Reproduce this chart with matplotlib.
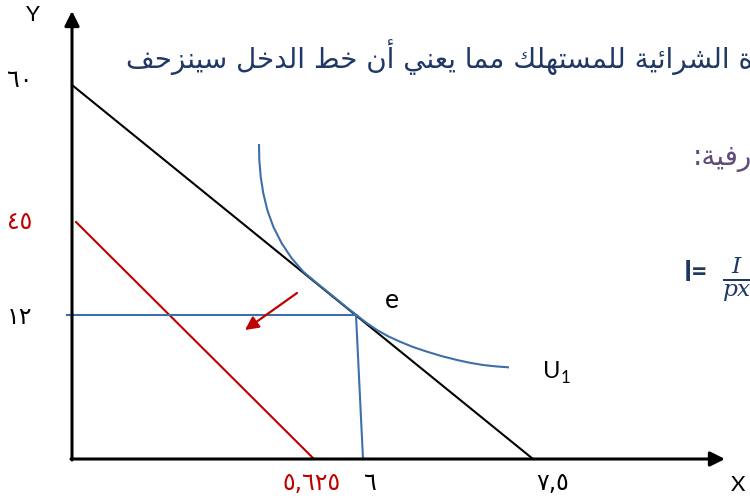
import matplotlib.pyplot as plt

# schematic coordinates: origin of the diagram at (0, 0), units
budget_x = [0, 461]
budget_y = [374, 0]
new_budget_x = [4, 242]
new_budget_y = [237, 0]
e_point = (284, 144)
e_foot_x = 291

u1_x = [187, 187.3, 188.7, 191.3, 195.3, 201.3, 209.7, 219.7, 231.3, 244.7, 261.3, 273, 284,
        294, 305, 316, 328, 341, 355, 370, 385, 398, 411, 424, 436]
u1_y = [314, 299, 282.3, 265.7, 249, 232.3, 215.7, 200.7, 187.3, 176, 162.6, 153, 144.3,
        136.5, 129, 122.8, 117.3, 112, 107.3, 102.8, 99, 96.2, 94, 92.6, 91.7]

y_tick_labels = ['٦٠', '٤٥', '١٢']
y_tick_pos = [379, 237, 142]
y_tick_colors = ['black', '#c00000', 'black']
x_tick_labels = ['٥,٦٢٥', '٦', '٧,٥']
x_tick_pos = [240, 298, 481]
x_tick_colors = ['#c00000', 'black', 'black']

top_text = 'ة الشرائية للمستهلك مما يعني أن خط الدخل سينزحف'
side_text = 'رفية:'

FORMS = {
    'ا': ('\uFE8D', '\uFE8E', None, None),
    'أ': ('\uFE83', '\uFE84', None, None),
    'ة': ('\uFE93', '\uFE94', None, None),
    'د': ('\uFEA9', '\uFEAA', None, None),
    'ر': ('\uFEAD', '\uFEAE', None, None),
    'ز': ('\uFEAF', '\uFEB0', None, None),
    'ت': ('\uFE95', '\uFE96', '\uFE97', '\uFE98'),
    'ح': ('\uFEA1', '\uFEA2', '\uFEA3', '\uFEA4'),
    'خ': ('\uFEA5', '\uFEA6', '\uFEA7', '\uFEA8'),
    'س': ('\uFEB1', '\uFEB2', '\uFEB3', '\uFEB4'),
    'ش': ('\uFEB5', '\uFEB6', '\uFEB7', '\uFEB8'),
    'ط': ('\uFEC1', '\uFEC2', '\uFEC3', '\uFEC4'),
    'ع': ('\uFEC9', '\uFECA', '\uFECB', '\uFECC'),
    'ف': ('\uFED1', '\uFED2', '\uFED3', '\uFED4'),
    'ك': ('\uFED9', '\uFEDA', '\uFEDB', '\uFEDC'),
    'ل': ('\uFEDD', '\uFEDE', '\uFEDF', '\uFEE0'),
    'م': ('\uFEE1', '\uFEE2', '\uFEE3', '\uFEE4'),
    'ن': ('\uFEE5', '\uFEE6', '\uFEE7', '\uFEE8'),
    'ه': ('\uFEE9', '\uFEEA', '\uFEEB', '\uFEEC'),
    'ي': ('\uFEF1', '\uFEF2', '\uFEF3', '\uFEF4'),
    'ئ': ('\uFE89', '\uFE8A', '\uFE8B', '\uFE8C'),
}


def shape(s):
    # join arabic letters and flip to visual order
    out = []
    for i, c in enumerate(s):
        if c not in FORMS:
            out.append(c)
            continue
        f = FORMS[c]
        prev = s[i - 1] if i > 0 else ''
        nxt = s[i + 1] if i + 1 < len(s) else ''
        join_prev = prev in FORMS and FORMS[prev][2] is not None
        join_next = f[2] is not None and nxt in FORMS
        if join_prev and join_next:
            out.append(f[3])
        elif join_prev:
            out.append(f[1])
        elif join_next:
            out.append(f[2])
        else:
            out.append(f[0])
    return ''.join(reversed(out))


plt.rcParams['font.family'] = ['DejaVu Sans']
plt.rcParams['mathtext.fontset'] = 'dejavuserif'
blue = '#3f6fa8'
red = '#c00000'

fig = plt.figure(figsize=(7.5, 5.04), dpi=100)
ax = fig.add_axes([0, 0, 1, 1])
ax.set_xlim(-72, 678)
ax.set_ylim(-45, 459)
ax.axis('off')

# axes with arrow heads
ax.annotate('', xy=(0, 448), xytext=(0, -1),
            arrowprops=dict(arrowstyle='-|>', lw=2.2, color='black', mutation_scale=22, shrinkA=0, shrinkB=0))
ax.annotate('', xy=(653, 0), xytext=(-1, 0),
            arrowprops=dict(arrowstyle='-|>', lw=2.2, color='black', mutation_scale=22, shrinkA=0, shrinkB=0))

ax.plot(budget_x, budget_y, color='black', lw=1.5)
ax.plot(new_budget_x, new_budget_y, color=red, lw=1.5)
ax.plot(u1_x, u1_y, color=blue, lw=1.5, solid_joinstyle='round')
ax.plot([-5, e_point[0]], [e_point[1], e_point[1]], color=blue, lw=1.5)
ax.plot([e_point[0], e_foot_x], [e_point[1], 0], color=blue, lw=1.5)

ax.annotate('', xy=(173, 129), xytext=(225, 166),
            arrowprops=dict(arrowstyle='-|>', lw=1.6, color=red, mutation_scale=20, shrinkA=0, shrinkB=0))

for lab, pos, col in zip(y_tick_labels, y_tick_pos, y_tick_colors):
    ax.text(-52, pos, lab, color=col, fontsize=17, ha='center', va='center')
for lab, pos, col in zip(x_tick_labels, x_tick_pos, x_tick_colors):
    ax.text(pos, -24, lab, color=col, fontsize=17, ha='center', va='center')

ax.text(-39, 444, 'Y', fontsize=16, family='Lato', ha='center', va='center')
ax.text(666, -26, 'X', fontsize=16, family='Lato', ha='center', va='center')
ax.text(320, 158, 'e', fontsize=19, family='Lato', ha='center', va='center')
ax.text(471, 87, 'U', fontsize=17, family='Lato', ha='left', va='center')
ax.text(489, 81, '1', fontsize=12, family='Lato', ha='left', va='center')

ax.text(681, 402, shape(top_text), color='#1f3864', fontsize=20, ha='right', va='center')
ax.text(680, 301, shape(side_text), color='#604a7b', fontsize=20, ha='right', va='center')
ax.text(624, 186, 'I=', color='#1f3864', fontsize=20, ha='center', va='center', family='Lato', weight='bold')
ax.text(665, 180, r'$\frac{I}{px}$', color='#1f3864', fontsize=24, ha='center', va='center')

plt.savefig('out.png', dpi=100)
